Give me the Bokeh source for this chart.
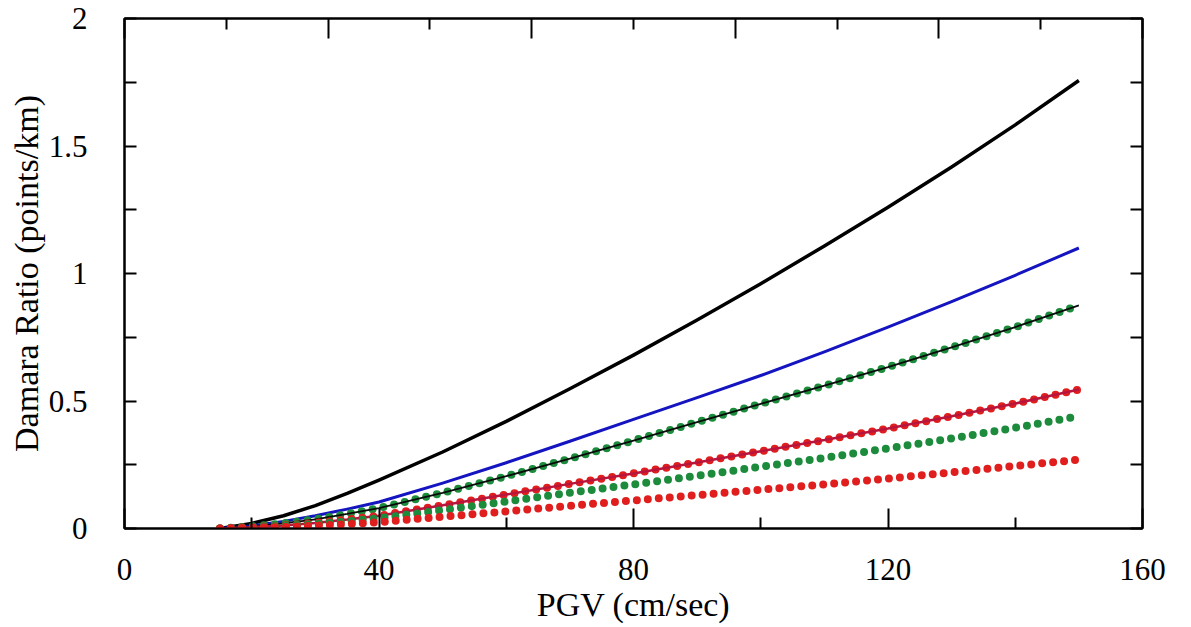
from bokeh.plotting import figure
from bokeh.models import LinearAxis, FixedTicker, Range1d
from bokeh.embed import file_html
from bokeh.resources import INLINE

# PGV (cm/sec)
pgv = [15, 20, 25, 30, 35, 40, 50, 60, 70, 80, 90, 100, 110, 120, 130, 140, 150]
# Damara ratio (points/km) per curve
black_solid = [0.0, 0.02, 0.05, 0.09, 0.138, 0.19, 0.30, 0.42, 0.548, 0.68, 0.818, 0.96, 1.108, 1.26, 1.418, 1.583, 1.757]
blue_solid = [0.0, 0.01, 0.028, 0.05, 0.076, 0.104, 0.178, 0.258, 0.342, 0.428, 0.513, 0.60, 0.693, 0.79, 0.89, 0.993, 1.10]
green_black = [0.0, 0.008, 0.02, 0.036, 0.057, 0.08, 0.14, 0.205, 0.274, 0.345, 0.417, 0.489, 0.56, 0.633, 0.71, 0.79, 0.875]
red_crimson = [0.0, 0.005, 0.012, 0.022, 0.035, 0.05, 0.091, 0.133, 0.175, 0.216, 0.259, 0.303, 0.347, 0.392, 0.44, 0.49, 0.545]
green_dots = [0.0, 0.004, 0.01, 0.018, 0.028, 0.04, 0.072, 0.106, 0.14, 0.173, 0.207, 0.242, 0.277, 0.314, 0.353, 0.395, 0.44]
red_dots = [0.0, 0.003, 0.006, 0.011, 0.017, 0.025, 0.046, 0.067, 0.089, 0.11, 0.131, 0.152, 0.173, 0.196, 0.22, 0.245, 0.27]

x_major = [0, 40, 80, 120, 160]
x_minor = [20, 60, 100, 140]
top_major = [0, 32, 64, 96, 128, 160]
top_minor = [16, 48, 80, 112, 144]
y_ticks = [0, 0.5, 1, 1.5, 2]
y_minor = [0.25, 0.75, 1.25, 1.75]
y_labels = {0: "0", 0.5: "0.5", 1: "1", 1.5: "1.5", 2: "2"}

FONT = "Liberation Serif"

p = figure(frame_width=1018, frame_height=510, x_range=Range1d(0, 160), y_range=Range1d(0, 2),
           output_backend="svg", toolbar_location=None,
           min_border_left=124, min_border_right=41, min_border_top=18, min_border_bottom=60)
p.xgrid.visible = False
p.ygrid.visible = False
p.outline_line_color = "black"
p.outline_line_width = 2
p.background_fill_color = "white"
p.border_fill_color = "white"

def style(ax, labels=True):
    ax.axis_line_color = "black"
    ax.axis_line_width = 2
    ax.major_tick_line_color = "black"
    ax.minor_tick_line_color = "black"
    ax.major_tick_line_width = 2
    ax.minor_tick_line_width = 2
    ax.major_tick_out = 0
    ax.minor_tick_out = 0
    ax.major_label_text_font = FONT
    if labels:
        ax.major_label_text_font_size = "31px"
        ax.major_label_text_color = "black"
    else:
        ax.major_label_text_font_size = "1px"
        ax.major_label_text_color = None

# bottom
xa = p.xaxis[0]
xa.ticker = FixedTicker(ticks=x_major, minor_ticks=x_minor)
style(xa)
xa.major_tick_in = 20
xa.minor_tick_in = 11
xa.major_label_standoff = 30
xa.axis_label = "PGV (cm/sec)"
xa.axis_label_text_font = FONT
xa.axis_label_text_font_size = "34px"
xa.axis_label_text_font_style = "normal"
xa.axis_label_text_color = "black"
xa.axis_label_standoff = 3

# left
ya = p.yaxis[0]
ya.ticker = FixedTicker(ticks=y_ticks, minor_ticks=y_minor)
style(ya)
ya.major_tick_in = 12
ya.minor_tick_in = 12
ya.major_label_standoff = 37
ya.major_label_overrides = y_labels
ya.axis_label = "Damara Ratio (points/km)"
ya.axis_label_text_font = FONT
ya.axis_label_text_font_size = "34px"
ya.axis_label_text_font_style = "normal"
ya.axis_label_text_color = "black"
ya.axis_label_standoff = 1

# top
ta = LinearAxis(ticker=FixedTicker(ticks=top_major, minor_ticks=top_minor))
style(ta, labels=False)
ta.major_tick_in = 20
ta.minor_tick_in = 11
p.add_layout(ta, "above")

# right
ra = LinearAxis(ticker=FixedTicker(ticks=y_ticks, minor_ticks=y_minor))
style(ra, labels=False)
ra.major_tick_in = 12
ra.minor_tick_in = 12
p.add_layout(ra, "right")

GREEN = "#1c8c3c"
RED = "#e01e1e"

p.line(pgv, black_solid, line_color="black", line_width=3.5, line_join="round")
p.line(pgv, blue_solid, line_color="#1414c0", line_width=3, line_join="round")
p.line(pgv, green_black, line_color=GREEN, line_width=8, line_dash="0 11", line_cap="round")
p.line(pgv, green_black, line_color="#0a0a0a", line_width=1.8)
p.line(pgv, red_crimson, line_color=RED, line_width=8, line_dash="0 11", line_cap="round")
p.line(pgv, red_crimson, line_color="#b8143c", line_width=2.5)
p.line(pgv, green_dots, line_color=GREEN, line_width=8, line_dash="0 11", line_cap="round")
p.line(pgv, red_dots, line_color=RED, line_width=8, line_dash="0 11", line_cap="round")

open("out.html", "w").write(file_html(p, INLINE))
